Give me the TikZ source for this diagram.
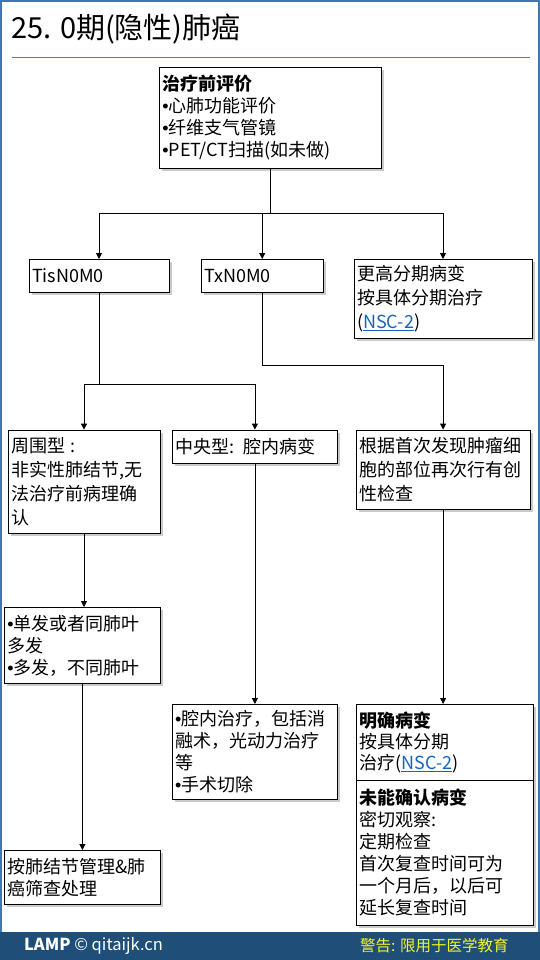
\documentclass[tikz,border=0pt]{standalone}
\usepackage{fontspec}
\usepackage{tikz}
\usetikzlibrary{arrows.meta,shadows}
\newfontfamily\cjk{Noto Sans CJK SC}
\newfontfamily\bulletfont{Liberation Sans}
\definecolor{frameblue}{HTML}{3F77B0}
\definecolor{ruleblue}{HTML}{4F81BD}
\definecolor{footblue}{HTML}{1F4E79}
\definecolor{linkblue}{HTML}{1565C0}
\definecolor{warnyellow}{HTML}{F5F52A}
\newcommand{\nsclink}{\textcolor{linkblue}{\underline{NSC-2}}}
\newcommand{\bul}{{\bulletfont •}}

\begin{document}
\begin{tikzpicture}[
x=1pt, y=-1pt,
box/.style={draw=black, line width=0.8pt, fill=white, anchor=north west, align=left, inner xsep=3pt, inner ysep=2pt, font=\cjk\fontsize{18}{22}\selectfont, drop shadow={shadow xshift=2.5pt, shadow yshift=-2.5pt, fill=black!35, opacity=0.6}},
arrow/.style={-{Triangle[length=6pt,width=6pt]}, line width=0.8pt}
]
\useasboundingbox (0,0) rectangle (540,960);
\draw[frameblue, line width=2pt] (1,1) rectangle (539,959);
\fill[footblue] (0,932) rectangle (540,960);
\node[anchor=west, inner sep=0, font=\cjk\fontsize{29}{32}\selectfont] (title) at (11,29) {25. 0期(隐性)肺癌};
\draw[ruleblue, line width=1pt] (12,58) -- (530,58);

\node[box, text width=216pt, minimum height=101pt] (eval) at (159,67) {\textbf{治疗前评价}\\\bul{}心肺功能评价\\\bul{}纤维支气管镜\\\bul{}PET/CT扫描(如未做)};
\node[box, text width=134pt, minimum height=33pt] (tis) at (28.6,259) {TisN0M0};
\node[box, text width=116pt, minimum height=33pt] (tx) at (200.8,259) {TxN0M0};
\node[box, text width=172pt, minimum height=79pt, font=\cjk\fontsize{18}{24}\selectfont] (higher) at (353.6,259) {更高分期病变\\按具体分期治疗\\(\nsclink)};
\node[box, text width=146pt, minimum height=103.4pt, font=\cjk\fontsize{18}{24}\selectfont] (peri) at (7.6,429.6) {周围型 :\\非实性肺结节,无\\法治疗前病理确\\认};
\node[box, text width=159pt, minimum height=33.4pt] (central) at (172,429.6) {中央型: 腔内病变};
\node[box, text width=168pt, minimum height=79.4pt, font=\cjk\fontsize{18}{24}\selectfont] (rebiopsy) at (355.7,429.6) {根据首次发现肿瘤细\\胞的部位再次行有创\\性检查};
\node[box, text width=150pt, minimum height=76pt] (multi) at (4,607) {\bul{}单发或者同肺叶\\多发\\\bul{}多发，不同肺叶};
\node[box, text width=159pt, minimum height=95pt] (endo) at (171.7,704) {\bul{}腔内治疗，包括消\\融术，光动力治疗\\等\\\bul{}手术切除};
\node[box, text width=171pt, minimum height=76pt, font=\cjk\fontsize{18}{21}\selectfont] (confirmed) at (356,704) {\textbf{明确病变}\\按具体分期\\治疗(\nsclink)};
\node[box, text width=171pt, minimum height=145pt] (unconfirmed) at (356,780) {\textbf{未能确认病变}\\密切观察:\\定期检查\\首次复查时间可为\\一个月后，以后可\\延长复查时间};
\node[box, text width=150pt, minimum height=54pt] (screen) at (4,850) {按肺结节管理\&肺\\癌筛查处理};

\draw[arrow] (eval.south) -- ++(0,45) -| (tis.north);
\draw[arrow] (eval.south) -- ++(0,45) -| (tx.north);
\draw[arrow] (eval.south) -- ++(0,45) -| (higher.north);
\draw[arrow] (tis.south) -- ++(0,92) -| (peri.north);
\draw[arrow] (tis.south) -- ++(0,92) -| (central.north);
\draw[arrow] (tx.south) -- ++(0,73) -| (rebiopsy.north);
\draw[arrow] (peri) -- (peri |- multi.north);
\draw[arrow] (multi) -- (multi |- screen.north);
\draw[arrow] (central) -- (central |- endo.north);
\draw[arrow] (rebiopsy) -- (rebiopsy |- confirmed.north);

\node[anchor=west, inner sep=0, text=white, font=\cjk\fontsize{16.5}{18}\selectfont] (lamp) at (24,946) {\textbf{LAMP} © qitaijk.cn};
\node[anchor=west, inner sep=0, text=warnyellow, font=\cjk\fontsize{15.5}{18}\selectfont] (warn) at (360,946) {警告: 限用于医学教育};
\end{tikzpicture}
\end{document}
